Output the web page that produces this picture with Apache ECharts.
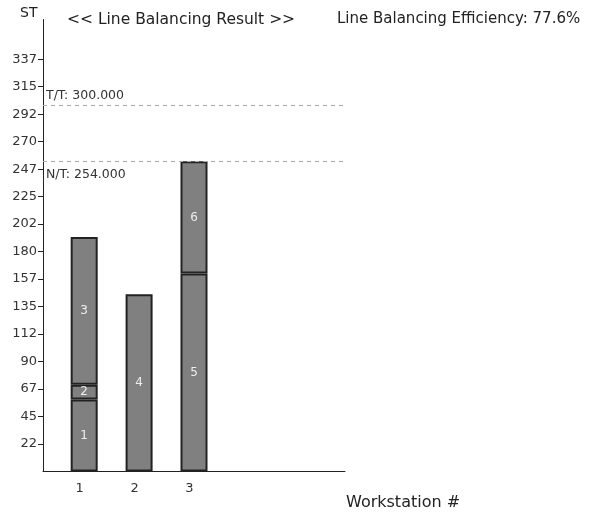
<!DOCTYPE html>
<html>
<head>
<meta charset="utf-8">
<script src="https://cdn.jsdelivr.net/npm/echarts@6/dist/echarts.min.js"></script>
<style>
  html, body { margin: 0; padding: 0; background: #fff; }
  #chart { width: 591px; height: 514px; }
</style>
</head>
<body>
<div id="chart"></div>
<script>
// tasks (name, workstation, standard time)
const taskNames = ["1", "2", "3", "4", "5", "6"];
const taskStations = [1, 1, 1, 2, 3, 3];
const taskTimes = [59, 12, 121, 145, 162, 92];
const stations = [1, 2, 3];
const taktTime = 300;
const netTime = 254;
const yTicks = [22.5, 45, 67.5, 90, 112.5, 135, 157.5, 180, 202.5, 225, 247.5, 270, 292.5, 315, 337.5];

const FONT = "DejaVu Sans, Verdana, sans-serif";
// the x axis is split in half-width slots: gap, bar, gap, bar, ...
const SLOTS = 11;
const slotOf = (s) => s * 2 - 1;
const xCats = [];
for (let j = 0; j < SLOTS; j++) {
  const s = stations.find((st) => slotOf(st) === j);
  xCats.push(s ? String(s) : "");
}

// stacking layers: layer k holds the k-th task of each workstation
const layers = [];
const counts = {};
taskNames.forEach((name, i) => {
  const s = taskStations[i];
  const k = counts[s] || 0;
  counts[s] = k + 1;
  if (!layers[k]) layers[k] = { values: xCats.map(() => null), names: xCats.map(() => "") };
  layers[k].values[slotOf(s)] = taskTimes[i];
  layers[k].names[slotOf(s)] = name;
});

const total = taskTimes.reduce((a, b) => a + b, 0);
const efficiency = (total / (stations.length * netTime) * 100).toFixed(1);

const series = layers.map((layer) => ({
  type: "bar",
  stack: "st",
  barWidth: 27,
  silent: true,
  data: layer.values,
  itemStyle: {
    color: "#808080",
    borderColor: "#222222",
    borderWidth: 2,
  },
  label: {
    show: true,
    position: "inside",
    color: "#eeeeee",
    fontFamily: FONT,
    fontSize: 12,
    formatter: (p) => layer.names[p.dataIndex],
  },
}));

series[0].markLine = {
  silent: true,
  symbol: "none",
  lineStyle: { type: [4, 4], color: "#aaaaaa", width: 1 },
  label: { fontFamily: FONT, fontSize: 12.5, color: "#333" },
  data: [
    { yAxis: taktTime, label: { position: "insideStartTop", distance: [3, 3], formatter: "T/T: " + taktTime.toFixed(3) } },
    { yAxis: netTime, label: { position: "insideStartBottom", distance: [3, 7], formatter: "N/T: " + netTime.toFixed(3) } },
  ],
};

const option = {
  animation: false,
  backgroundColor: "#fff",
  grid: { left: 43, right: 246, top: 19.5, bottom: 42.5 },
  xAxis: {
    type: "category",
    data: xCats,
    splitLine: { show: false },
    axisLine: { lineStyle: { color: "#222", width: 1 } },
    axisTick: { show: false },
    axisLabel: {
      interval: 0,
      color: "#333",
      fontFamily: FONT,
      fontSize: 13,
      margin: 11,
      padding: [0, 9, 0, 0],
    },
  },
  yAxis: {
    type: "value",
    min: 0,
    max: 370,
    splitLine: { show: false },
    axisLine: { show: true, lineStyle: { color: "#222", width: 1 } },
    axisTick: { show: true, customValues: yTicks, length: 5, lineStyle: { color: "#222" } },
    axisLabel: {
      customValues: yTicks,
      formatter: (v) => String(Math.floor(v)),
      color: "#333",
      fontFamily: FONT,
      fontSize: 13,
      margin: 6,
    },
  },
  graphic: [
    { type: "text", left: 20, top: 6, style: { text: "ST", font: "14px " + FONT, fill: "#222" } },
    { type: "text", left: 67, top: 12, style: { text: "<< Line Balancing Result >>", font: "15.5px " + FONT, fill: "#222" } },
    { type: "text", left: 337, top: 12, style: { text: "Line Balancing Efficiency: " + efficiency + "%", font: "15px " + FONT, fill: "#222" } },
    { type: "text", left: 346, top: 495, style: { text: "Workstation #", font: "16px " + FONT, fill: "#222" } },
  ],
  series: series,
};

const chart = echarts.init(document.getElementById("chart"), null, { renderer: "canvas" });
chart.setOption(option);
</script>
</body>
</html>
